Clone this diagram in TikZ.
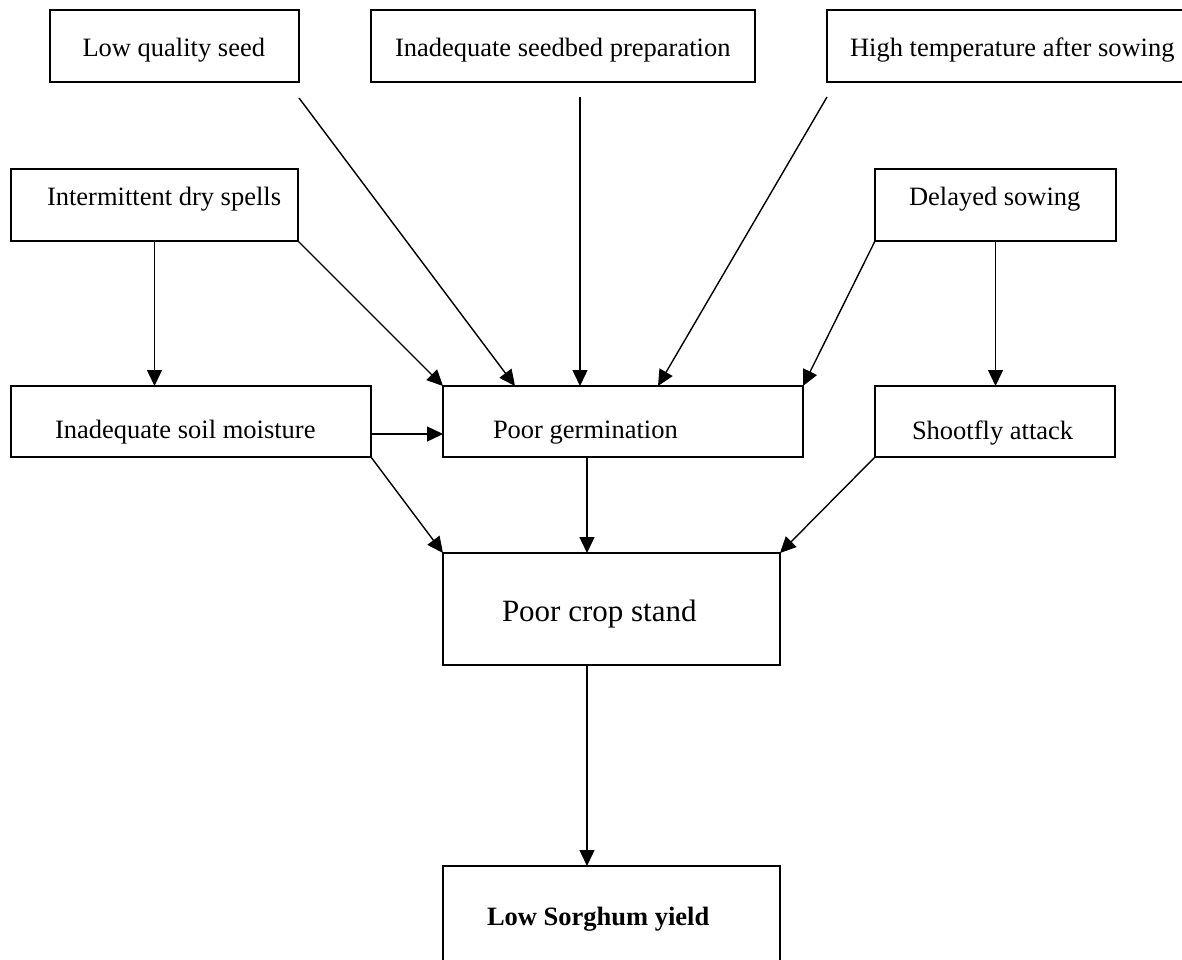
\documentclass[tikz,border=0pt]{standalone}
\usepackage{fontspec}
\setmainfont{Liberation Serif}
\usetikzlibrary{arrows.meta,calc}
\begin{document}
\begin{tikzpicture}[x=1pt,y=-1pt,
  box/.style={draw,line width=1.4pt,inner sep=0pt,outer sep=0pt},
  txt/.style={inner sep=0pt,outer sep=0pt,anchor=base west,font=\fontsize{26.5}{30}\selectfont},
  arr/.style={line width=1.4pt,-{Triangle[length=16pt,width=15pt]}}]
\useasboundingbox (0,0) rectangle (1182,959);
\clip (0,0) rectangle (1182,959);
% boxes
\node[box,minimum width=249pt,minimum height=72pt] (lqs) at (174.5,46) {};
\node[box,minimum width=384pt,minimum height=72pt] (seed) at (563,46) {};
\node[box,minimum width=378pt,minimum height=72pt] (high) at (1016,46) {};
\node[box,minimum width=287pt,minimum height=72pt] (dry) at (154.5,205) {};
\node[box,minimum width=241pt,minimum height=72pt] (delay) at (995.5,205) {};
\node[box,minimum width=360pt,minimum height=71pt] (soil) at (191,421.5) {};
\node[box,minimum width=360pt,minimum height=71pt] (pg) at (623,421.5) {};
\node[box,minimum width=240pt,minimum height=71pt] (shoot) at (995,421.5) {};
\node[box,minimum width=337pt,minimum height=112pt] (crop) at (611.5,609) {};
\node[box,minimum width=337pt,minimum height=110pt] (yield) at (611.5,921) {};
% texts
\node[txt] (tlqs) at (82.5,56) {Low quality seed};
\node[txt] (tseed) at (395,56) {Inadequate seedbed preparation};
\node[txt] (thigh) at (850,56) {High temperature after sowing};
\node[txt] (tdry) at (47,205) {Intermittent dry spells};
\node[txt] (tdelay) at (909,205) {Delayed sowing};
\node[txt] (tsoil) at (55,438) {Inadequate soil moisture};
\node[txt] (tpg) at (493,438) {Poor germination};
\node[txt] (tshoot) at (912,439) {Shootfly attack};
\node[txt,font=\fontsize{31}{36}\selectfont] (tcrop) at (502,621) {Poor crop stand};
\node[txt,font=\fontsize{26.5}{30}\selectfont\bfseries] (tyield) at (487,925) {Low Sorghum yield};
% connectors
\draw[arr] ($(lqs.south east)+(0,16)$) -- ($(pg.north west)+(72,0)$);
\draw[arr] ($(seed.south west)+(209,15)$) -- ($(pg.north west)+(137,0)$);
\draw[arr] ($(high.south west)+(0,15)$) -- ($(pg.north west)+(215,0)$);
\draw[arr] (dry.south) -- (soil.north -| dry.south);
\draw[arr] (dry.south east) -- (pg.north west);
\draw[arr] (delay.south west) -- (pg.north east);
\draw[arr] (delay.south) -- (shoot.north -| delay.south);
\draw[arr] ($(soil.south east)+(0,-23)$) -- ($(pg.south west)+(0,-23)$);
\draw[arr] (soil.south east) -- (crop.north west);
\draw[arr] ($(pg.south west)+(144,0)$) -- ($(crop.north west)+(144,0)$);
\draw[arr] (shoot.south west) -- (crop.north east);
\draw[arr] ($(crop.south west)+(144,0)$) -- ($(yield.north west)+(144,0)$);
\end{tikzpicture}
\end{document}
